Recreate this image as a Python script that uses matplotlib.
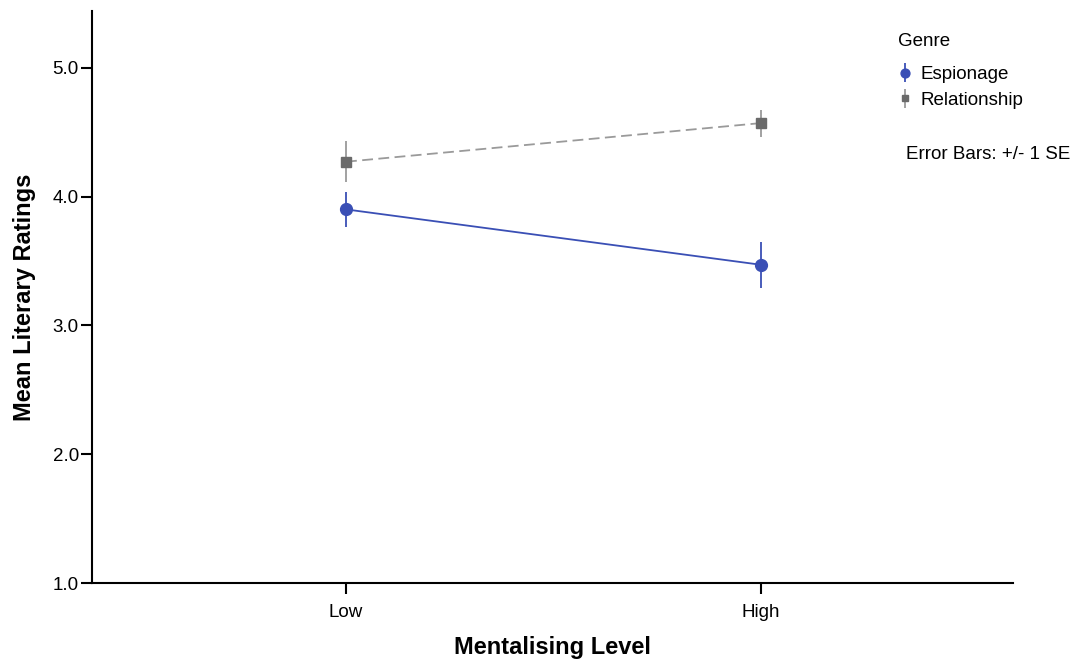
import matplotlib
matplotlib.use('Agg')
import matplotlib.pyplot as plt
import numpy as np

plt.rcParams['font.family'] = ['Liberation Sans', 'DejaVu Sans']

# data
levels = ['Low', 'High']
espionage_mean = [3.90, 3.47]
espionage_se = [0.135, 0.18]
relationship_mean = [4.27, 4.57]
relationship_se = [0.16, 0.105]

blue = '#3a4fb5'
grey_line = '#9a9a9a'
grey_mark = '#6a6a6a'
fs = 13.5

fig = plt.figure(figsize=(10.85, 6.61), dpi=100)
ax = fig.add_axes([92/1085, 78/661, (1013-92)/1085, (583-11)/661])

x = np.arange(len(levels))

# connecting lines
ax.plot(x, espionage_mean, color=blue, lw=1.3, zorder=2)
ax.plot(x, relationship_mean, color=grey_line, lw=1.3, ls=(0, (6, 3)), zorder=2)

# markers + error bars
ax.errorbar(x, espionage_mean, yerr=espionage_se, fmt='o', ms=8.5, color=blue,
            ecolor=blue, elinewidth=1.3, capsize=0, ls='none', label='Espionage', zorder=3)
ax.errorbar(x, relationship_mean, yerr=relationship_se, fmt='s', ms=6.5, color=grey_mark,
            ecolor=grey_line, elinewidth=1.3, capsize=0, ls='none', label='Relationship', zorder=3)

ax.set_xlim(-0.612, 1.607)
ax.set_ylim(1.0, 5.44)
ax.set_xticks(x)
ax.set_xticklabels(levels)
ax.set_yticks([1, 2, 3, 4, 5])
ax.set_yticklabels(['1.0', '2.0', '3.0', '4.0', '5.0'])

for s in ['top', 'right']:
    ax.spines[s].set_visible(False)
for s in ['left', 'bottom']:
    ax.spines[s].set_linewidth(1.5)
ax.tick_params(axis='both', length=8, width=1.5, labelsize=fs, colors='black')
ax.tick_params(axis='y', pad=1.5)
ax.tick_params(axis='x', pad=7)

ax.set_ylabel('Mean Literary Ratings', fontsize=17, fontweight='bold', labelpad=12)
ax.set_xlabel('Mentalising Level', fontsize=17, fontweight='bold', labelpad=11)

# legend
fig.text(898/1085, 1 - 42/661, 'Genre', fontsize=fs, va='center', ha='left')
fig.legend(loc='upper left', bbox_to_anchor=(897/1085, 1 - 66/661), frameon=False,
           fontsize=fs, handlelength=0.8, handletextpad=0.47, labelspacing=0.45,
           borderpad=0, borderaxespad=0, markerscale=0.75)

fig.text(906/1085, 1 - 154/661, 'Error Bars: +/- 1 SE', fontsize=fs, va='center', ha='left')

fig.savefig('out.png', dpi=100)
